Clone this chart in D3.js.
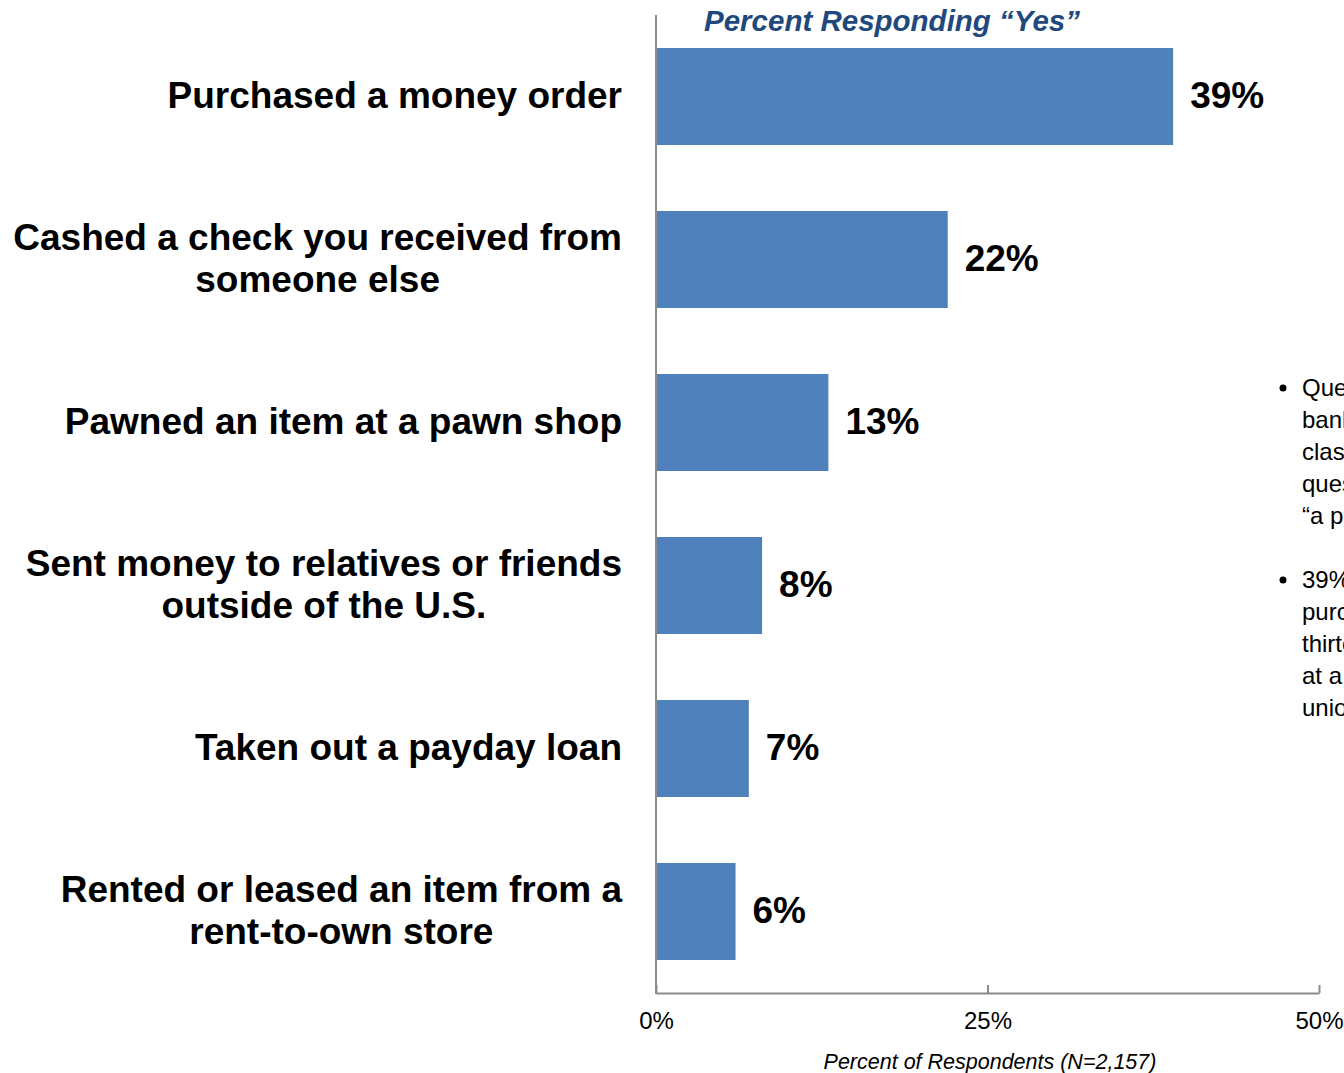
<!DOCTYPE html>
<html>
<head>
<meta charset="utf-8">
<script src="https://cdn.jsdelivr.net/npm/d3@7"></script>
<style>
  html, body { margin: 0; padding: 0; background: #fff; overflow: hidden; }
  svg { display: block; }
  text { font-family: "Liberation Sans", Arial, sans-serif; }
</style>
</head>
<body>
<svg id="chart" width="1344" height="1073"></svg>
<script>
// Alternative financial services used, share of respondents answering "Yes"
const categories = [
  ["Purchased a money order"],
  ["Cashed a check you received from", "someone else"],
  ["Pawned an item at a pawn shop"],
  ["Sent money to relatives or friends", "outside of the U.S."],
  ["Taken out a payday loan"],
  ["Rented or leased an item from a", "rent-to-own store"]
];
const values = [39, 22, 13, 8, 7, 6];
const tickValues = [0, 25, 50];
const tickLabels = ["0%", "25%", "50%"];
const chartTitle = "Percent Responding \u201CYes\u201D";
const axisTitle = "Percent of Respondents (N=2,157)";
const notes = [
  ["Questions on non-bank services", "banking outside of a bank,", "classified by the survey", "question wording as", "\u201Ca place other than a bank\u201D"],
  ["39% of respondents have", "purchased a money order;", "thirteen percent pawned an item", "at a shop rather than a bank or credit", "union"]
];

const svg = d3.select("#chart");
const barColor = "#4F81BD";
const axisColor = "#8C8C8C";

const x = d3.scaleLinear().domain([0, 50]).range([656, 1319]);
const y = d3.scaleBand()
  .domain(d3.range(values.length))
  .range([15, 993])
  .paddingInner(0.405)
  .paddingOuter(0.2025);

// bars
svg.append("g").selectAll("rect")
  .data(values)
  .join("rect")
  .attr("x", x(0))
  .attr("y", (d, i) => y(i))
  .attr("width", d => x(d) - x(0))
  .attr("height", y.bandwidth())
  .attr("fill", barColor);

// value labels
svg.append("g").selectAll("text")
  .data(values)
  .join("text")
  .attr("x", d => x(d) + 17)
  .attr("y", (d, i) => y(i) + y.bandwidth() / 2 - 1)
  .attr("dy", "0.35em")
  .attr("font-size", 37)
  .attr("font-weight", "bold")
  .attr("fill", "#000")
  .text(d => d + "%");

// category labels: a right-aligned block with centred lines
const lineH = 42;
const labelRight = 622;
categories.forEach((lines, i) => {
  const cy = y(i) + y.bandwidth() / 2 - 1;
  const t = svg.append("text")
    .attr("font-size", 37)
    .attr("font-weight", "bold")
    .attr("fill", "#000")
    .attr("text-anchor", "middle");
  lines.forEach((ln, k) => {
    t.append("tspan")
      .attr("x", 0)
      .attr("y", cy + (k - (lines.length - 1) / 2) * lineH)
      .attr("dy", "0.35em")
      .text(ln);
  });
  const w = d3.max(t.selectAll("tspan").nodes(), n => n.getComputedTextLength());
  t.selectAll("tspan").attr("x", labelRight - w / 2);
});

// vertical axis line
svg.append("line")
  .attr("x1", x(0)).attr("x2", x(0))
  .attr("y1", 15).attr("y2", 994)
  .attr("stroke", axisColor).attr("stroke-width", 2);

// horizontal axis with upward ticks
const xAxis = d3.axisBottom(x)
  .tickValues(tickValues)
  .tickSize(0)
  .tickFormat((d, i) => tickLabels[i]);
const gx = svg.append("g").attr("transform", "translate(0,993)").call(xAxis);
gx.select(".domain").attr("stroke", axisColor).attr("stroke-width", 2);
gx.selectAll(".tick line")
  .attr("y1", 0).attr("y2", -8)
  .attr("stroke", axisColor).attr("stroke-width", 2);
gx.selectAll(".tick text")
  .attr("y", 28)
  .attr("dy", "0.35em")
  .attr("font-size", 24)
  .attr("font-family", "\"Liberation Sans\", Arial, sans-serif")
  .attr("fill", "#000");

// axis title
svg.append("text")
  .attr("x", 990).attr("y", 1069)
  .attr("text-anchor", "middle")
  .attr("font-size", 21.5)
  .attr("font-style", "italic")
  .attr("fill", "#000")
  .text(axisTitle);

// chart title
svg.append("text")
  .attr("x", 892).attr("y", 31)
  .attr("text-anchor", "middle")
  .attr("font-size", 29.5)
  .attr("font-weight", "bold")
  .attr("font-style", "italic")
  .attr("fill", "#1F497D")
  .text(chartTitle);

// side notes
const noteStarts = [396, 588];
notes.forEach((lines, i) => {
  svg.append("circle")
    .attr("cx", 1283).attr("cy", noteStarts[i] - 8)
    .attr("r", 3.5).attr("fill", "#000");
  const t = svg.append("text").attr("font-size", 24).attr("fill", "#000");
  lines.forEach((ln, k) => {
    t.append("tspan").attr("x", 1302).attr("y", noteStarts[i] + k * 32).text(ln);
  });
});
</script>
</body>
</html>
